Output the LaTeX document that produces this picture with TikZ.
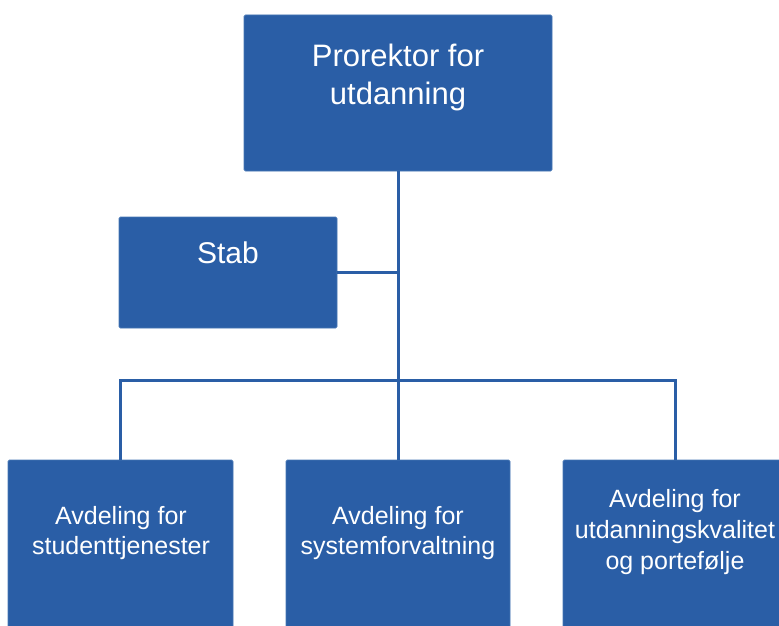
\documentclass[tikz,border=0pt]{standalone}
\usepackage{fontspec}
\setmainfont{Liberation Sans}
\definecolor{boxblue}{RGB}{42,94,166}
\definecolor{edgeblue}{RGB}{70,118,180}
\tikzset{
  orgbox/.style={draw=edgeblue, line width=0.8pt, fill=boxblue, rounded corners=1.5pt, inner sep=0pt},
  boxtext/.style={text=white, align=center, inner sep=0pt},
  link/.style={draw=boxblue, line width=3pt}
}
\begin{document}
\begin{tikzpicture}[x=1pt,y=-1pt]
\useasboundingbox (0,0) rectangle (779,626);
\clip (0,0) rectangle (779,626);
% boxes
\node[orgbox, minimum width=308pt, minimum height=156pt] (top) at (398,93) {};
\node[orgbox, minimum width=218pt, minimum height=111pt] (stab) at (228,272.5) {};
\node[orgbox, minimum width=225pt, minimum height=200pt] (b1) at (120.5,560) {};
\node[orgbox, minimum width=224pt, minimum height=200pt] (b2) at (398,560) {};
\node[orgbox, minimum width=224pt, minimum height=200pt] (b3) at (675,560) {};
% texts
\node[boxtext, font=\fontsize{31}{38}\selectfont] (ttop) at (398,77) {Prorektor for\\utdanning};
\node[boxtext, font=\fontsize{30}{36}\selectfont] (tstab) at (228,253) {Stab};
\node[boxtext, font=\fontsize{25}{30}\selectfont] (tb1) at (121,533.5) {Avdeling for\\studenttjenester};
\node[boxtext, font=\fontsize{25}{30}\selectfont] (tb2) at (398,533.5) {Avdeling for\\systemforvaltning};
\node[boxtext, font=\fontsize{25}{31}\selectfont] (tb3) at (675,532.5) {Avdeling for\\utdanningskvalitet\\og portefølje};
% connectors
\coordinate (bar) at (398,380);
\draw[link] (top.south) -- (b2.north);
\draw[link] (stab.east) -- (stab.east -| top.south);
\draw[link] (b1.north) |- (bar) -| (b3.north);
\end{tikzpicture}
\end{document}
